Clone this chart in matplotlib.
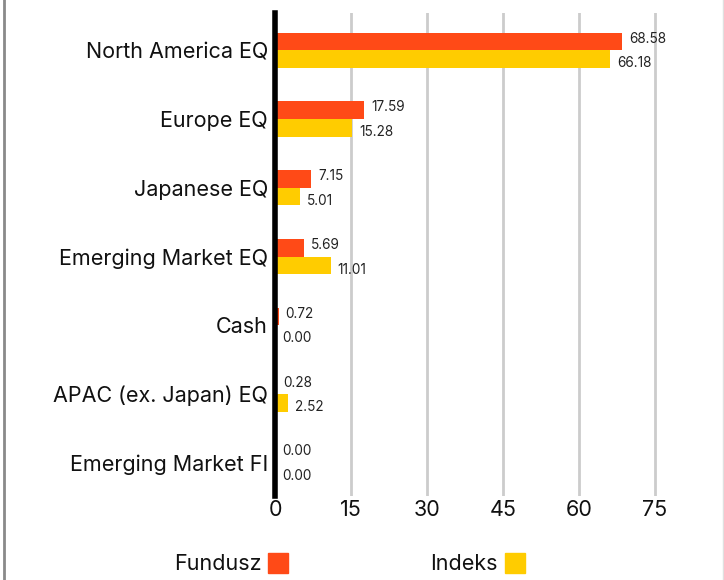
import numpy as np
import matplotlib.pyplot as plt
from matplotlib.patches import Rectangle
from matplotlib.lines import Line2D

plt.rcParams['font.family'] = ['Inter', 'DejaVu Sans']

categories = ["North America EQ", "Europe EQ", "Japanese EQ", "Emerging Market EQ",
              "Cash", "APAC (ex. Japan) EQ", "Emerging Market FI"]
fundusz = [68.58, 17.59, 7.15, 5.69, 0.72, 0.28, 0.00]
indeks = [66.18, 15.28, 5.01, 11.01, 0.00, 2.52, 0.00]
xticks = [0, 15, 30, 45, 60, 75]

c_fund = "#FF4A17"
c_idx = "#FFCC00"

fig = plt.figure(figsize=(7.24, 5.80), dpi=100)
ax = fig.add_axes([275 / 724, 84 / 580, 420 / 724, 483 / 580])

y = np.arange(len(categories))
h = 0.255
ax.barh(y - h / 2, fundusz, height=h, color=c_fund, zorder=3)
ax.barh(y + h / 2, indeks, height=h, color=c_idx, zorder=3)

for yi, v in zip(y, fundusz):
    ax.annotate(f"{v:.2f}", (v, yi - h / 2), xytext=(5, 2), textcoords="offset points",
                va="center", ha="left", fontsize=9.8, color="#222222")
for yi, v in zip(y, indeks):
    ax.annotate(f"{v:.2f}", (v, yi + h / 2), xytext=(5, -3), textcoords="offset points",
                va="center", ha="left", fontsize=9.8, color="#222222")

ax.set_xlim(0, 420 / 5.067)
ax.set_ylim(6.48, -0.54)
ax.set_yticks(y)
ax.set_yticklabels(categories, fontsize=15.5, color="#111111")
ax.set_xticks(xticks)
ax.set_xticklabels([str(t) for t in xticks], fontsize=15.5, color="#111111")
ax.tick_params(axis="y", length=0, pad=5)
ax.tick_params(axis="x", length=0, pad=3)

ax.grid(axis="x", color="#cccccc", linewidth=2, zorder=0)
for s in ["top", "right", "bottom"]:
    ax.spines[s].set_visible(False)
ax.spines["left"].set_linewidth(4)
ax.spines["left"].set_color("black")
ax.spines["left"].set_zorder(4)

# legend
fig.text(262 / 724, 1 - 564 / 580, "Fundusz", ha="right", va="center", fontsize=15.5, color="#111111")
fig.patches.append(Rectangle((268 / 724, 1 - 573 / 580), 20 / 724, 20 / 580,
                             transform=fig.transFigure, color=c_fund))
fig.text(498 / 724, 1 - 564 / 580, "Indeks", ha="right", va="center", fontsize=15.5, color="#111111")
fig.patches.append(Rectangle((505 / 724, 1 - 573 / 580), 20 / 724, 20 / 580,
                             transform=fig.transFigure, color=c_idx))

# frame edges
fig.lines.append(Line2D([3.5 / 724, 3.5 / 724], [0, 1], transform=fig.transFigure,
                        color="#8a8a8a", linewidth=2))
fig.lines.append(Line2D([722.5 / 724, 722.5 / 724], [0, 1], transform=fig.transFigure,
                        color="#e0e0e0", linewidth=1))

fig.savefig("out.png", dpi=100)
